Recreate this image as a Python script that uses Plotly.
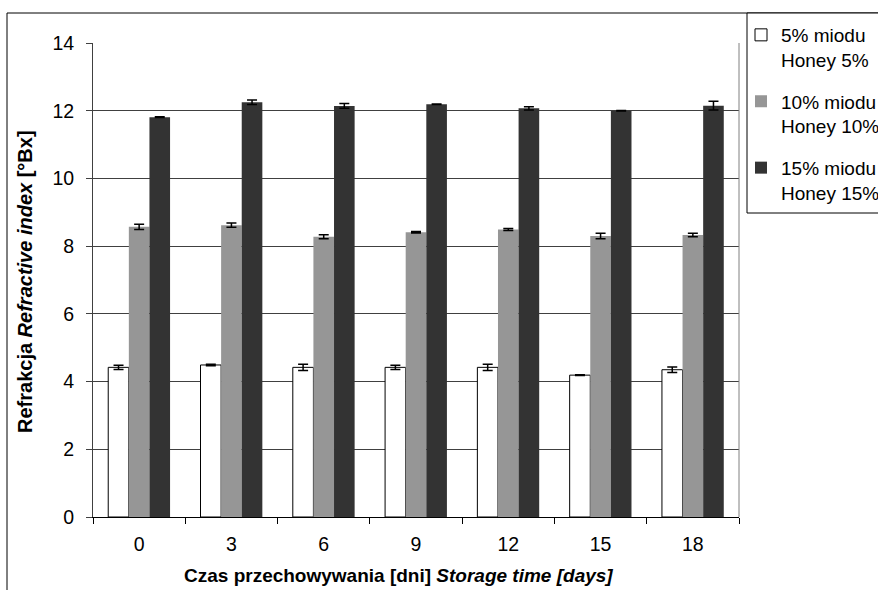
import plotly.graph_objects as go

days = ["0", "3", "6", "9", "12", "15", "18"]
honey5 = [4.42, 4.49, 4.42, 4.42, 4.42, 4.19, 4.35]
honey5_err = [0.06, 0.02, 0.09, 0.06, 0.09, 0.01, 0.08]
honey10 = [8.57, 8.62, 8.28, 8.41, 8.49, 8.30, 8.33]
honey10_err = [0.08, 0.06, 0.06, 0.02, 0.03, 0.08, 0.05]
honey15 = [11.81, 12.25, 12.14, 12.19, 12.07, 12.00, 12.15]
honey15_err = [0.01, 0.07, 0.07, 0.01, 0.05, 0.01, 0.13]

names = ["5% miodu<br>Honey 5%", "10% miodu<br>Honey 10%", "15% miodu<br>Honey 15%"]
fills = ["#ffffff", "#969696", "#333333"]
lines = [1, 0, 0]

FONT = "Liberation Sans, Arial, sans-serif"
W, H = 878, 590
L, R, T, B = 93, 739, 43, 517
pw, ph = R - L, B - T

fig = go.Figure()
for vals, errs, name, col, lw in zip([honey5, honey10, honey15],
                                     [honey5_err, honey10_err, honey15_err],
                                     names, fills, lines):
    fig.add_trace(go.Bar(
        x=days, y=vals, name=name, legendgroup=name,
        marker=dict(color=col, line=dict(color="black", width=lw)),
        error_y=dict(type="data", array=errs, color="black", thickness=1.5, width=5),
    ))

def px_x(x):
    return (x - L) / pw

def px_y(y):
    return (B - y) / ph

fig.update_layout(
    width=W, height=H,
    margin=dict(l=L, r=W - R, t=T, b=H - B, autoexpand=False),
    paper_bgcolor="white", plot_bgcolor="white",
    barmode="group", bargap=0.33, bargroupgap=0,
    font=dict(family=FONT, size=19, color="black"),
    legend=dict(
        x=px_x(741), y=px_y(16), xanchor="left", yanchor="top",
        borderwidth=0, bgcolor="rgba(0,0,0,0)",
        font=dict(size=19), valign="top", tracegroupgap=14,
        itemwidth=30,
    ),
    xaxis=dict(
        type="category", showgrid=False, showline=True, linecolor="black", linewidth=1,
        ticks="outside", tickson="boundaries", ticklen=6, tickcolor="black",
        tickfont=dict(size=19.5), ticklabelstandoff=10,
    ),
    yaxis=dict(
        range=[0, 14], dtick=2, showgrid=True, gridcolor="#404040", gridwidth=1,
        zeroline=False, showline=True, linecolor="#404040", linewidth=1,
        ticks="outside", ticklen=6, tickcolor="#404040", tickfont=dict(size=19.5),
        ticklabelstandoff=8,
    ),
    shapes=[
        dict(type="line", xref="paper", yref="paper", x0=1, x1=1, y0=0, y1=1,
             line=dict(color="#808080", width=1)),
        dict(type="rect", xref="paper", yref="paper",
             x0=px_x(7), x1=px_x(2000), y0=px_y(2000), y1=px_y(13),
             line=dict(color="black", width=1), fillcolor="rgba(0,0,0,0)", layer="below"),
        dict(type="rect", xref="paper", yref="paper",
             x0=px_x(747), x1=px_x(2000), y0=px_y(213), y1=px_y(13),
             line=dict(color="black", width=1), fillcolor="white", layer="below"),
    ],
    annotations=[
        dict(text="<b>Refrakcja <i>Refractive index</i> [°Bx]</b>", textangle=-90,
             xref="paper", yref="paper", x=px_x(25), y=px_y(282),
             xanchor="center", yanchor="middle", showarrow=False, font=dict(size=20)),
        dict(text="<b>Czas przechowywania [dni] <i>Storage time [days]</i></b>",
             xref="paper", yref="paper", x=px_x(398), y=px_y(575),
             xanchor="center", yanchor="middle", showarrow=False, font=dict(size=19)),
    ],
)

fig.write_html("out.html", config={"displayModeBar": False},
               post_script="document.body.style.margin='0';document.body.style.overflow='hidden';")
